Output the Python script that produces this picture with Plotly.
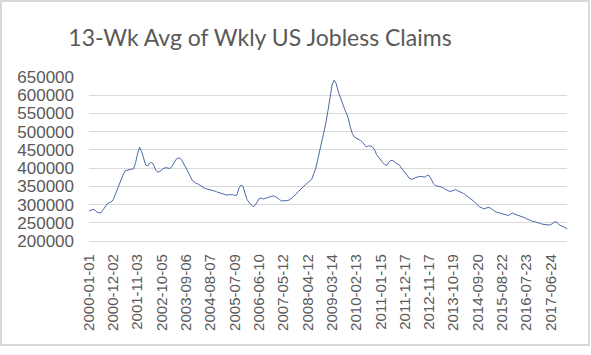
import pandas as pd
import plotly.graph_objects as go

# 13-week average of weekly US jobless claims (thousands), sampled every 4 weeks from 2000-01-01
claims_k = [
    282, 285, 287, 284, 279, 277, 278, 286, 294, 302,
    305, 307, 314, 328, 342, 358, 371, 384, 393, 395,
    396, 397, 398, 415, 440, 457, 445, 424, 408, 406,
    414, 416, 408, 394, 389, 391, 396, 400, 401, 400,
    399, 405, 413, 424, 428, 427, 420, 410, 400, 391,
    378, 366, 361, 358, 356, 352, 349, 345, 343, 342,
    341, 339, 337, 335, 333, 332, 331, 328, 326, 327,
    328, 327, 325, 326, 345, 353, 350, 330, 314, 306,
    299, 294, 298, 306, 316, 318, 315, 317, 319, 319,
    321, 324, 322, 319, 314, 310, 310, 310, 311, 313,
    317, 321, 327, 334, 340, 345, 349, 355, 360, 364,
    370, 385, 400, 425, 450, 470, 497, 525, 558, 595,
    628, 641, 633, 611, 594, 577, 565, 551, 537, 513,
    495, 485, 482, 480, 476, 471, 463, 458, 461, 461,
    458, 450, 437, 429, 421, 415, 410, 407, 416, 421,
    421, 416, 412, 410, 402, 396, 387, 378, 373, 369,
    371, 374, 376, 377, 377, 376, 375, 381, 379, 369,
    358, 352, 351, 350, 348, 345, 342, 338, 336, 337,
    340, 341, 338, 336, 333, 330, 326, 322, 318, 314,
    309, 303, 298, 293, 291, 288, 290, 292, 291, 287,
    281, 279, 278, 276, 274, 272, 271, 270, 273, 277,
    274, 272, 271, 270, 267, 264, 261, 258, 256, 254,
    253, 252, 251, 248, 246, 245, 245, 244, 245, 249,
    253, 252, 245, 242, 240, 237, 232,
]
start_date = "2000-01-01"
dates = pd.date_range(start_date, periods=len(claims_k), freq="28D")
claims = [v * 1000 for v in claims_k]

x_labels = [
    "2000-01-01", "2000-12-02", "2001-11-03", "2002-10-05", "2003-09-06",
    "2004-08-07", "2005-07-09", "2006-06-10", "2007-05-12", "2008-04-12",
    "2009-03-14", "2010-02-13", "2011-01-15", "2011-12-17", "2012-11-17",
    "2013-10-19", "2014-09-20", "2015-08-22", "2016-07-23", "2017-06-24",
]
y_ticks = [200000, 250000, 300000, 350000, 400000, 450000, 500000, 550000, 600000, 650000]
title = "13-Wk Avg of Wkly US Jobless Claims"

fig = go.Figure()
fig.add_trace(go.Scatter(
    x=dates, y=claims, mode="lines",
    line=dict(color="#4a68a8", width=1.0),
    hoverinfo="skip", showlegend=False,
))

GRID = "#d9d9d9"
TXT = "#595959"

fig.update_layout(
    width=591, height=355,
    margin=dict(l=89, r=24, t=77, b=114),
    paper_bgcolor="white", plot_bgcolor="white",
    title=dict(text=title, x=260 / 591, xanchor="center", xref="container",
               y=1 - 38 / 355, yref="container", yanchor="middle",
               font=dict(family="Lato", size=23, color=TXT)),
    xaxis=dict(
        type="date", range=[dates[0], dates[-1]],
        tickmode="array", tickvals=x_labels, ticktext=x_labels,
        tickangle=-90, showgrid=False, ticks="",
        showline=True, linecolor=GRID, linewidth=1.3,
        tickfont=dict(family="Liberation Sans", size=15, color=TXT),
        ticklabelstandoff=6,
    ),
    yaxis=dict(
        range=[200000, 650000], tickmode="array", tickvals=y_ticks,
        ticktext=[str(v) for v in y_ticks],
        showgrid=True, gridcolor=GRID, gridwidth=1.3,
        zeroline=False, showline=False, ticks="",
        tickfont=dict(family="Liberation Sans", size=17, color=TXT),
        ticklabelstandoff=14,
    ),
    shapes=[dict(type="rect", xref="paper", yref="paper",
                 x0=(1 - 89) / 478, x1=(589 - 89) / 478,
                 y0=(241 - 345) / 164, y1=(241 - 1) / 164,
                 line=dict(color=GRID, width=2), fillcolor="rgba(0,0,0,0)",
                 layer="below")],
)

fig.write_html("out.html")
